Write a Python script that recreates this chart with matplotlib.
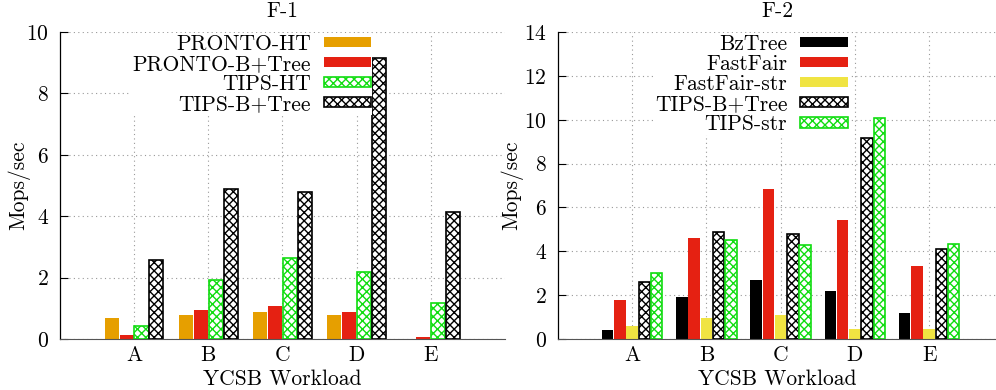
#YCSB throughput bars, two panels (F-1, F-2)
import numpy as np	#arrays
import matplotlib
matplotlib.use('Agg')
import matplotlib.pyplot as plt	#to plot

plt.rcParams['font.family'] = ['cmr10', 'DejaVu Serif']
plt.rcParams['mathtext.fontset'] = 'cm'
plt.rcParams['axes.formatter.use_mathtext'] = True
plt.rcParams['font.size'] = 15.5
plt.rcParams['hatch.linewidth'] = 1.0

###################################################################
#data
workloads = ['A', 'B', 'C', 'D', 'E']

f1_labels = ['PRONTO-HT', 'PRONTO-B+Tree', 'TIPS-HT', 'TIPS-B+Tree']
pronto_ht = [0.69, 0.79, 0.89, 0.77, 0.0]
pronto_bt = [0.14, 0.95, 1.08, 0.87, 0.08]
tips_ht = [0.42, 1.92, 2.65, 2.18, 1.18]
tips_bt = [2.58, 4.90, 4.80, 9.15, 4.13]

f2_labels = ['BzTree', 'FastFair', 'FastFair-str', 'TIPS-B+Tree', 'TIPS-str']
bztree = [0.43, 1.93, 2.67, 2.21, 1.19]
fastfair = [1.80, 4.62, 6.82, 5.44, 3.35]
fastfair_str = [0.61, 0.97, 1.11, 0.47, 0.47]
tips_bt2 = [2.61, 4.89, 4.80, 9.19, 4.12]
tips_str = [3.02, 4.53, 4.30, 10.06, 4.35]

#styles: (face, edge, hatch)
f1_styles = [('#e69f00', 'none', None), ('#e52112', 'none', None),
             ('white', '#11dd11', 'xxxx'), ('white', 'black', 'xxxx')]
f2_styles = [('black', 'none', None), ('#e52112', 'none', None),
             ('#f0e442', 'none', None), ('white', 'black', 'xxxx'),
             ('white', '#11dd11', 'xxxx')]

####################################################
def draw(ax, series, labels, styles, step, width, ymax, xmax, title, ylx):
    x = np.arange(1, len(workloads) + 1)
    n = len(series)
    handles = []
    for i in range(n):
        face, edge, hatch = styles[i]
        off = (i - (n - 1) / 2.0) * step
        b = ax.bar(x + off, series[i], width, color=face, edgecolor=edge,
                   hatch=hatch, linewidth=1.2 if hatch else 0, label=labels[i])
        handles.append(b)
    ax.set_xlim(0, xmax)
    ax.set_ylim(0, ymax)
    ax.set_xticks(x)
    ax.set_xticklabels(workloads)
    ax.set_yticks(np.arange(0, ymax + 1, 2))
    ax.tick_params(axis='y', direction='in', length=6, width=0.8, pad=8)
    ax.tick_params(axis='x', length=0, pad=5)
    ax.grid(True, linestyle=(0, (1, 3)), color='#999999', linewidth=0.8)
    ax.set_axisbelow(True)
    for s in ['top', 'right']:
        ax.spines[s].set_visible(False)
    ax.spines['left'].set_linewidth(0.9)
    ax.spines['bottom'].set_color('#555555')
    ax.set_ylabel('Mops/sec')
    ax.yaxis.set_label_coords(ylx, 0.5)
    ax.set_xlabel('YCSB Workload', labelpad=3)
    ax.set_title(title, pad=11, fontsize=15.5)
    return handles


fig = plt.figure(figsize=(9.96, 3.9), dpi=100)
ax1 = fig.add_axes([0.0602, 0.1308, 0.4468, 0.787])
ax2 = fig.add_axes([0.5602, 0.1308, 0.4398, 0.787])

h1 = draw(ax1, [pronto_ht, pronto_bt, tips_ht, tips_bt], f1_labels, f1_styles,
          0.2, 0.19, 10, 6.0, 'F-1', -0.067)
h2 = draw(ax2, [bztree, fastfair, fastfair_str, tips_bt2, tips_str], f2_labels,
          f2_styles, 0.165, 0.155, 14, 5.9, 'F-2', -0.08)

for ax, h, xr in [(ax1, h1, 0.3735), (ax2, h2, 0.852)]:
    leg = ax.legend(handles=h, loc='upper right', bbox_to_anchor=(xr, 0.915),
                    bbox_transform=fig.transFigure, markerfirst=False,
                    frameon=True, fancybox=False, borderpad=0.05,
                    handlelength=2.2, handleheight=0.38, handletextpad=0.6,
                    labelspacing=0.025, borderaxespad=0, fontsize=15.5)
    leg.get_frame().set_edgecolor('none')
    leg.get_frame().set_facecolor('white')
    leg.get_frame().set_alpha(1)
    for t in leg.get_texts():
        t.set_ha('right')

fig.savefig('out.png', dpi=100)
